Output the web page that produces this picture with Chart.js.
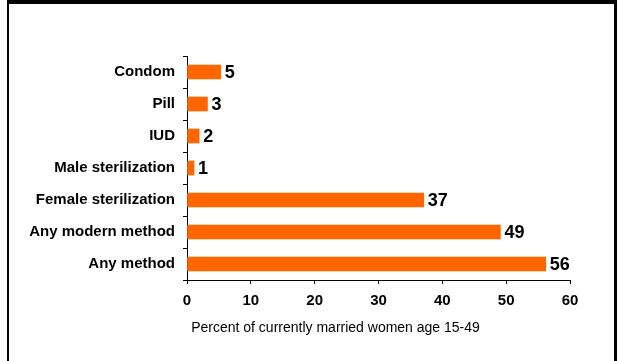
<!DOCTYPE html>
<html>
<head>
<meta charset="utf-8">
<script src="https://cdn.jsdelivr.net/npm/chart.js@4.4.1/dist/chart.umd.min.js"></script>
<style>
  html, body { margin: 0; padding: 0; background: #fff; }
  #wrap { position: relative; width: 619px; height: 361px; overflow: hidden; }
  #frame { position: absolute; left: 7px; top: 0; width: 605px; height: 400px;
           border-left: 2px solid #000; border-right: 3px solid #000; border-top: 4px solid #000;
           pointer-events: none; }
  canvas { position: absolute; left: 0; top: 0; }
</style>
</head>
<body>
<div id="wrap">
  <canvas id="c" width="619" height="361"></canvas>
  <div id="frame"></div>
</div>
<script>
const categories = ["Condom", "Pill", "IUD", "Male sterilization", "Female sterilization", "Any modern method", "Any method"];
const values = [5.3, 3.2, 1.9, 1.1, 37.1, 49.1, 56.2];
const valueLabels = ["5", "3", "2", "1", "37", "49", "56"];
const xTicks = [0, 10, 20, 30, 40, 50, 60];
const xTitle = "Percent of currently married women age 15-49";

const FONT = '"Liberation Sans", Arial, sans-serif';

const valueLabelPlugin = {
  id: 'valueLabels',
  afterDatasetsDraw(chart) {
    const ctx = chart.ctx;
    const meta = chart.getDatasetMeta(0);
    ctx.save();
    ctx.font = 'bold 18px ' + FONT;
    ctx.fillStyle = '#000';
    ctx.textAlign = 'left';
    ctx.textBaseline = 'middle';
    meta.data.forEach((bar, i) => {
      ctx.fillText(valueLabels[i], bar.x + 4, bar.y + 1);
    });
    ctx.restore();
  }
};

const xTitlePlugin = {
  id: 'xTitle',
  afterDraw(chart) {
    const ctx = chart.ctx;
    const a = chart.chartArea;
    ctx.save();
    ctx.font = '14px ' + FONT;
    ctx.fillStyle = '#000';
    ctx.textAlign = 'center';
    ctx.textBaseline = 'middle';
    ctx.fillText(xTitle, (a.left + a.right) / 2 - 43, a.bottom + 48);
    ctx.restore();
  }
};

new Chart(document.getElementById('c'), {
  type: 'bar',
  data: {
    labels: categories,
    datasets: [{
      data: values,
      backgroundColor: '#FF6600',
      borderWidth: 0,
      barThickness: 14
    }]
  },
  options: {
    indexAxis: 'y',
    responsive: false,
    animation: false,
    devicePixelRatio: 1,
    layout: { padding: { left: 0, top: 56, right: 49, bottom: 0 } },
    plugins: { legend: { display: false }, tooltip: { enabled: false } },
    scales: {
      x: {
        min: 0, max: 60,
        afterBuildTicks(scale) { scale.ticks = xTicks.map(v => ({ value: v })); },
        afterFit(scale) { scale.height = 81; },
        grid: { drawOnChartArea: false, drawTicks: true, tickLength: 4, color: '#000' },
        border: { display: true, color: '#000', width: 1 },
        ticks: { color: '#000', font: { family: FONT, size: 15, weight: 'bold' }, padding: 8, maxRotation: 0 }
      },
      y: {
        afterFit(scale) { scale.width = 187; },
        grid: { drawOnChartArea: false, drawTicks: true, tickLength: 4, color: '#000', offset: true },
        border: { display: true, color: '#000', width: 1 },
        ticks: { color: '#000', font: { family: FONT, size: 15, weight: 'bold' }, padding: 8 }
      }
    }
  },
  plugins: [valueLabelPlugin, xTitlePlugin]
});
</script>
</body>
</html>
